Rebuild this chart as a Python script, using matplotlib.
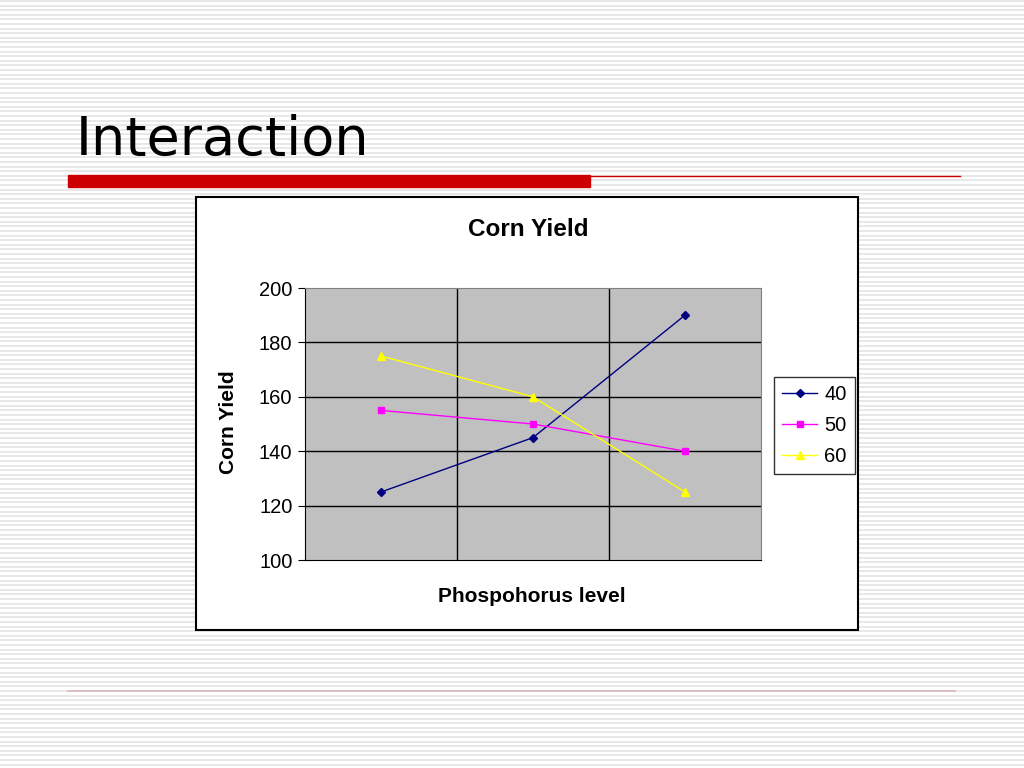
import numpy as np
import matplotlib
matplotlib.use('Agg')
import matplotlib.pyplot as plt
from matplotlib.patches import Rectangle

# Corn yield by phosphorus level, one series per nitrogen level
levels = [1, 2, 3]
series_names = ['40', '50', '60']
yield_40 = [125, 145, 190]
yield_50 = [155, 150, 140]
yield_60 = [175, 160, 125]
y_ticks = [100, 120, 140, 160, 180, 200]

W, H = 1024, 768
fig = plt.figure(figsize=(W / 100, H / 100), dpi=100)
plt.rcParams['font.family'] = ['Liberation Sans', 'DejaVu Sans']

# slide background with thin horizontal stripes
bg = fig.add_axes([0, 0, 1, 1])
bg.set_xlim(0, W)
bg.set_ylim(H, 0)
bg.axis('off')
for yy in np.arange(1, H, 4.6):
    bg.axhline(yy, color='#e4e4e4', lw=1.2, zorder=0)

# slide title and red rule
bg.text(76, 155, 'Interaction', fontsize=39, family='DejaVu Sans', color='black', va='baseline')
bg.add_patch(Rectangle((68, 175), 522, 12, color='#cc0000', zorder=2))
bg.plot([590, 960], [175.5, 175.5], color='#cc0000', lw=1, zorder=2)
bg.plot([68, 955], [691, 691], color='#d8b8b8', lw=1.2, zorder=2)

# chart box
bg.add_patch(Rectangle((196, 197), 662, 433, facecolor='white', edgecolor='black', lw=1.5, zorder=3))

def fx(px):
    return px / W

def fy(py):
    return 1 - py / H

ax = fig.add_axes([fx(305), fy(560), fx(761) - fx(305), fy(288) - fy(560)])
ax.set_facecolor('#c0c0c0')

ax.plot(levels, yield_40, color='#000080', marker='D', ms=4.5, lw=1, label=series_names[0])
ax.plot(levels, yield_50, color='#ff00ff', marker='s', ms=5, lw=1, label=series_names[1])
ax.plot(levels, yield_60, color='#ffff00', marker='^', ms=6, lw=1, label=series_names[2])

ax.set_xlim(0.5, 3.5)
ax.set_ylim(100, 200)
ax.set_yticks(y_ticks)
ax.set_xticks([])
ax.tick_params(axis='y', labelsize=14.5, length=5, direction='out', pad=4)
for yv in y_ticks[1:-1]:
    ax.axhline(yv, color='black', lw=1, zorder=0.5)
for xv in [1.5, 2.5]:
    ax.axvline(xv, color='black', lw=1, zorder=0.5)
ax.spines['left'].set_color('black')
ax.spines['bottom'].set_color('black')
ax.spines['top'].set_color('#808080')
ax.spines['right'].set_color('#808080')

fig.text(fx(528), fy(229), 'Corn Yield', fontsize=17.5, fontweight='bold', ha='center', va='center')
fig.text(fx(229), fy(422), 'Corn Yield', fontsize=15, fontweight='bold', ha='center', va='center', rotation=90)
fig.text(fx(532), fy(597), 'Phospohorus level', fontsize=15, fontweight='bold', ha='center', va='center')

leg = ax.legend(loc='upper left', bbox_to_anchor=(fx(774), fy(377)), bbox_transform=fig.transFigure,
                fontsize=14.5, frameon=True, fancybox=False, edgecolor='black', borderaxespad=0,
                handlelength=1.75, handletextpad=0.35, labelspacing=0.6, borderpad=0.4)
leg.get_frame().set_linewidth(1)

fig.savefig('out.png', dpi=100)
